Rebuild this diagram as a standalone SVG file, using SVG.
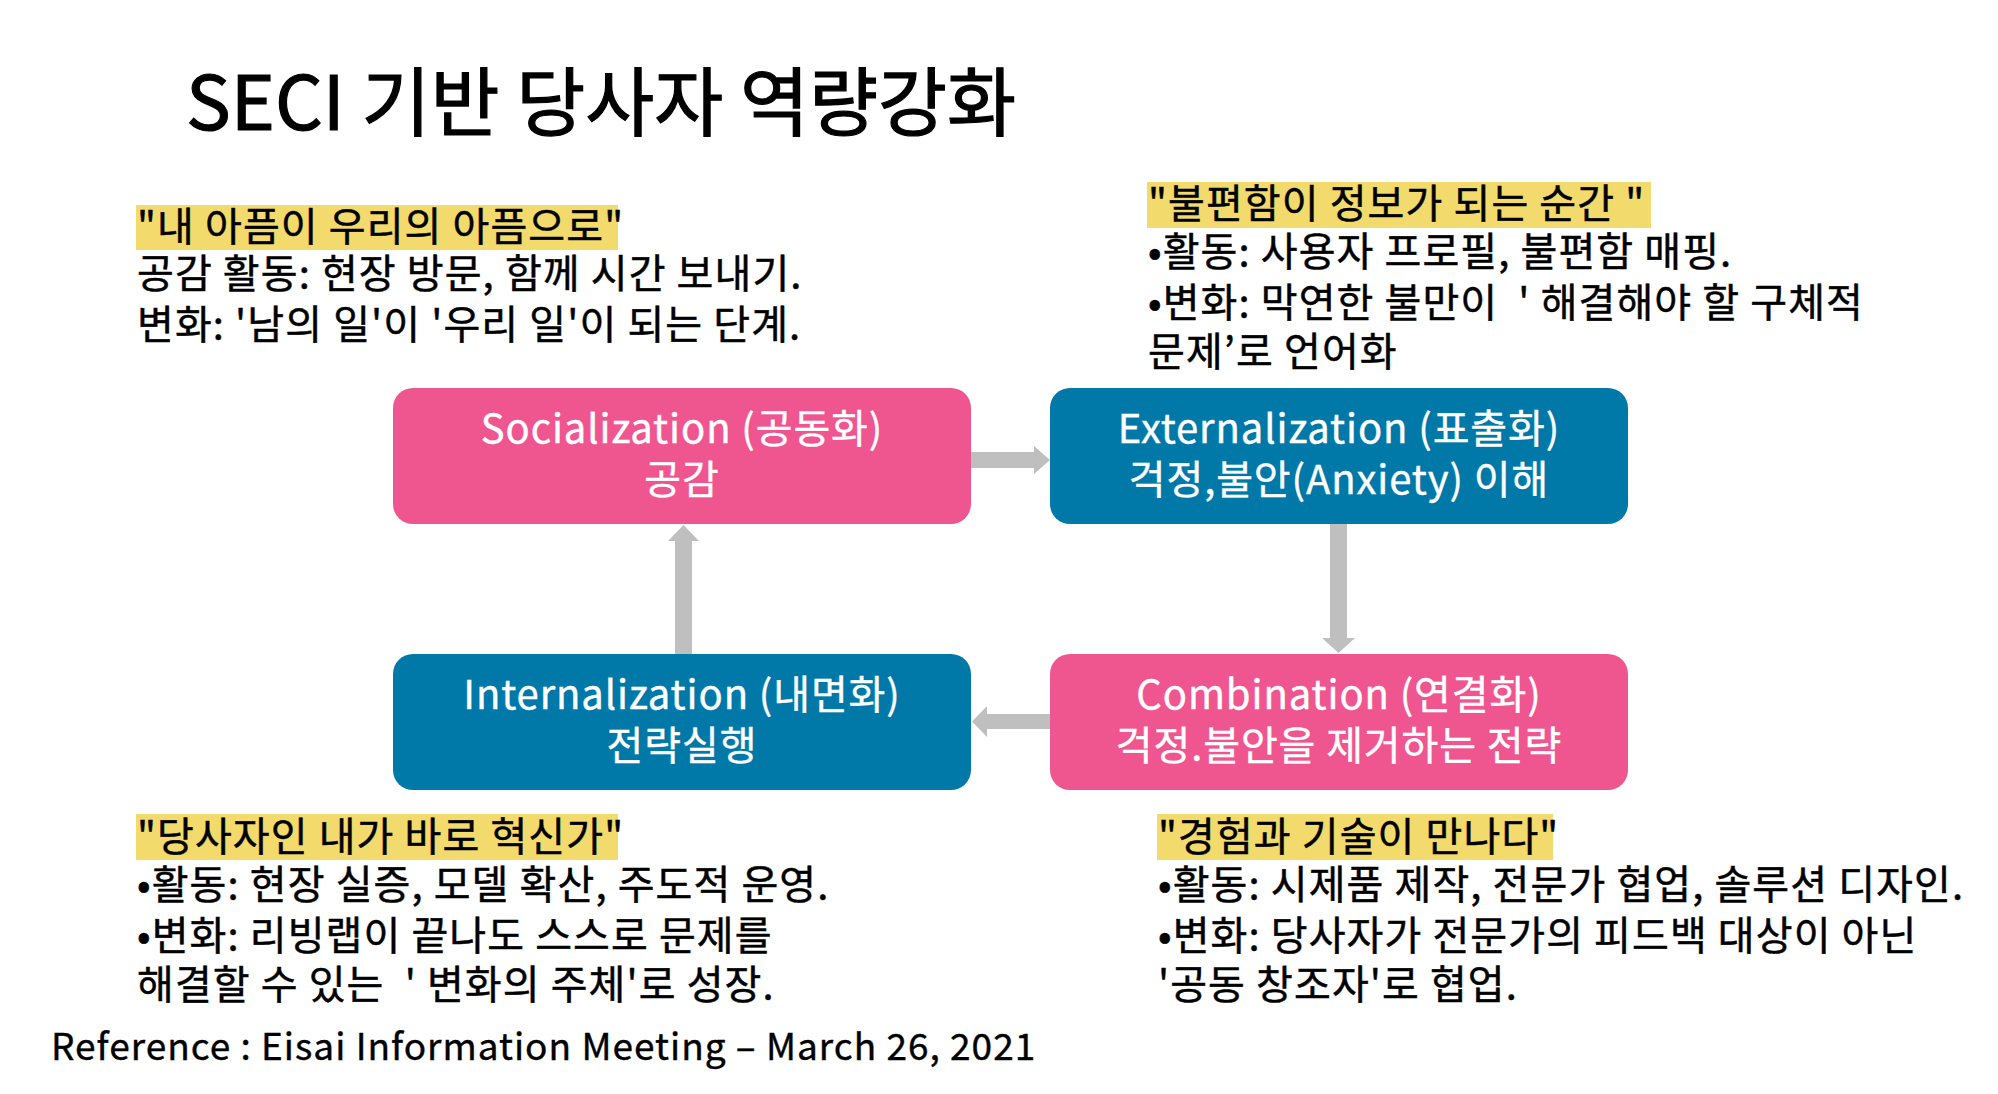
<svg xmlns="http://www.w3.org/2000/svg" width="1998" height="1094" viewBox="0 0 1998 1094">
<style>
text{font-family:"Noto Sans CJK KR","Noto Sans",sans-serif;white-space:pre;}
.title{font-size:75px;fill:#000;stroke:#000;stroke-width:1.2px;}
.body{font-size:40px;fill:#000;letter-spacing:1.1px;stroke:#000;stroke-width:0.5px;}
.node{font-size:40px;fill:#fff;text-anchor:middle;letter-spacing:0.9px;stroke:#fff;stroke-width:0.4px;}
.ref{font-size:37px;fill:#000;letter-spacing:1px;stroke:#000;stroke-width:0.4px;}
.pink{fill:#EF5690;}
.blue{fill:#0079A8;}
.hl{fill:#F2DB6C;}
.arrow{fill:#BFBFBF;}
</style>
<rect width="1998" height="1094" fill="#fff"/>
<text class="title" x="186" y="130">SECI 기반 당사자 역량강화</text>

<g id="note-socialization">
<rect class="hl" x="136" y="205" width="482" height="45"/>
<text class="body" x="137" y="241">"내 아픔이 우리의 아픔으로"</text>
<text class="body" x="137" y="288">공감 활동: 현장 방문, 함께 시간 보내기.</text>
<text class="body" x="137" y="339">변화: '남의 일'이 '우리 일'이 되는 단계.</text>
</g>
<g id="note-externalization">
<rect class="hl" x="1147" y="182" width="504" height="46"/>
<text class="body" x="1148" y="218">"불편함이 정보가 되는 순간 "</text>
<text class="body" x="1148" y="266">•활동: 사용자 프로필, 불편함 매핑.</text>
<text class="body" x="1148" y="317">•변화: 막연한 불만이  ' 해결해야 할 구체적</text>
<text class="body" x="1148" y="366">문제’로 언어화</text>
</g>
<g id="note-internalization">
<rect class="hl" x="136" y="814" width="482" height="46"/>
<text class="body" x="137" y="851">"당사자인 내가 바로 혁신가"</text>
<text class="body" x="137" y="899">•활동: 현장 실증, 모델 확산, 주도적 운영.</text>
<text class="body" x="137" y="950">•변화: 리빙랩이 끝나도 스스로 문제를</text>
<text class="body" x="137" y="999">해결할 수 있는  ' 변화의 주체'로 성장.</text>
</g>
<g id="note-combination">
<rect class="hl" x="1157" y="814" width="396" height="46"/>
<text class="body" x="1158" y="851">"경험과 기술이 만나다"</text>
<text class="body" x="1158" y="899">•활동: 시제품 제작, 전문가 협업, 솔루션 디자인.</text>
<text class="body" x="1158" y="950">•변화: 당사자가 전문가의 피드백 대상이 아닌</text>
<text class="body" x="1158" y="999">'공동 창조자'로 협업.</text>
</g>

<g id="connectors">
<polygon class="arrow" points="971,452 1034,452 1034,446 1050,460 1034,474 1034,468 971,468"/>
<polygon class="arrow" points="1330,524 1347,524 1347,638 1355,638 1338.5,653 1322,638 1330,638"/>
<polygon class="arrow" points="1050,714 987,714 987,706 972,721.5 987,737 987,729 1050,729"/>
<polygon class="arrow" points="675,654 675,541 668,541 683.5,525 699,541 692,541 692,654"/>
</g>

<g id="node-socialization">
<rect class="pink" x="393" y="388" width="578" height="136" rx="20"/>
<text class="node" x="682" y="443">Socialization (공동화)</text>
<text class="node" x="682" y="494">공감</text>
</g>
<g id="node-externalization">
<rect class="blue" x="1050" y="388" width="578" height="136" rx="20"/>
<text class="node" x="1339" y="443">Externalization (표출화)</text>
<text class="node" x="1339" y="494">걱정,불안(Anxiety) 이해</text>
</g>
<g id="node-internalization">
<rect class="blue" x="393" y="654" width="578" height="136" rx="20"/>
<text class="node" x="682" y="709">Internalization (내면화)</text>
<text class="node" x="682" y="760">전략실행</text>
</g>
<g id="node-combination">
<rect class="pink" x="1050" y="654" width="578" height="136" rx="20"/>
<text class="node" x="1339" y="709">Combination (연결화)</text>
<text class="node" x="1339" y="760">걱정.불안을 제거하는 전략</text>
</g>

<text class="ref" x="51" y="1060">Reference : Eisai Information Meeting – March 26, 2021</text>
</svg>
